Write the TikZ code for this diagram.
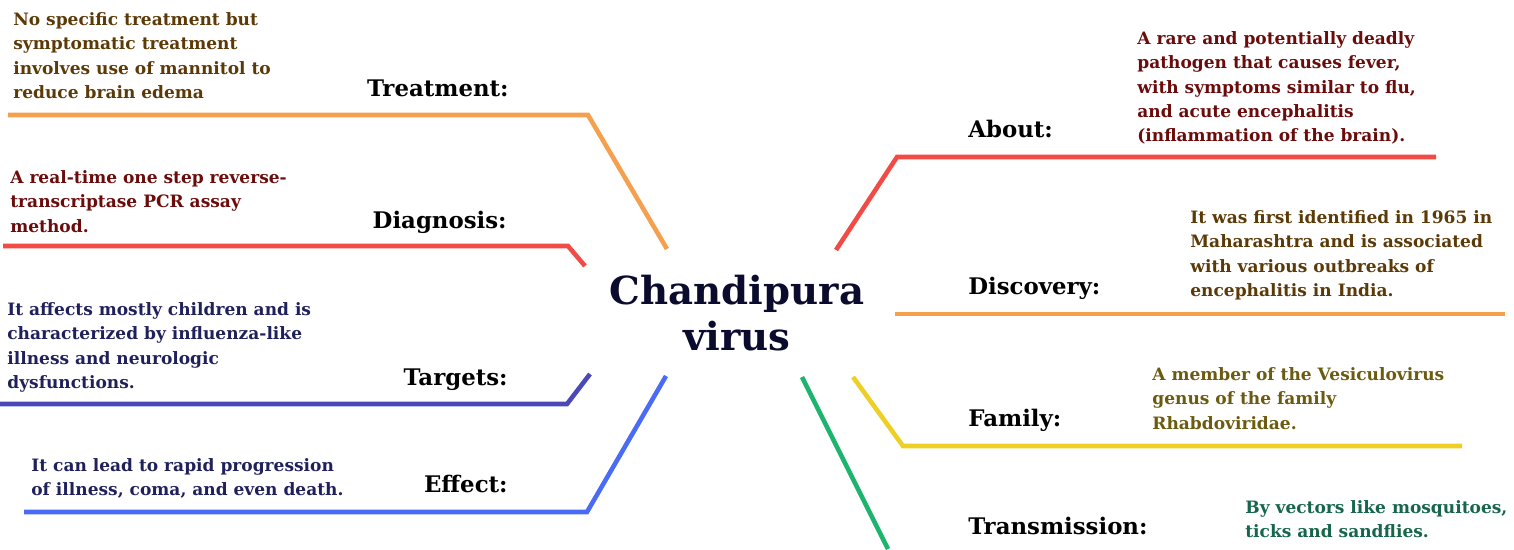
\documentclass[tikz,border=0pt]{standalone}
\usepackage{fontspec}
\setmainfont{DejaVu Serif}
\definecolor{lineorange}{HTML}{F5A04E}
\definecolor{linered}{HTML}{F24A45}
\definecolor{linepurple}{HTML}{4B48B8}
\definecolor{lineblue}{HTML}{4A6BF5}
\definecolor{lineyellow}{HTML}{EDCF26}
\definecolor{linegreen}{HTML}{1DB56E}
\definecolor{txtbrown}{HTML}{5C3A08}
\definecolor{txtmaroon}{HTML}{6B0C0C}
\definecolor{txtnavy}{HTML}{20215C}
\definecolor{txtolive}{HTML}{6B5B10}
\definecolor{txtgreen}{HTML}{17664A}
\definecolor{titlenavy}{HTML}{0B0B2E}
\tikzset{>=stealth,
  branch/.style={line width=2.6pt},
  head/.style={font=\bfseries\fontsize{13}{15}\selectfont, inner sep=0pt},
  info/.style={font=\bfseries\fontsize{9.7}{13.9}\selectfont, align=left, inner sep=0pt, anchor=north west}}

\begin{document}
\begin{tikzpicture}[x=0.02cm,y=-0.02cm]
    \useasboundingbox (0,0) rectangle (1514,549);
    \node[font=\bfseries\fontsize{22}{26.6}\selectfont, text=titlenavy, align=center, inner sep=0pt] (virus) at (737,313) {Chandipura\\virus};
    % branch ends
    \coordinate (treat-in) at (667,249);  \coordinate (treat-bend) at (588,115);  \coordinate (treat-out) at (8,115);
    \coordinate (diag-in) at (585,266);   \coordinate (diag-bend) at (568,246);   \coordinate (diag-out) at (3,246);
    \coordinate (targ-in) at (590,374);   \coordinate (targ-bend) at (567,404);   \coordinate (targ-out) at (0,404);
    \coordinate (eff-in) at (666,376);    \coordinate (eff-bend) at (587,512);    \coordinate (eff-out) at (24,512);
    \coordinate (about-in) at (836,250);  \coordinate (about-bend) at (897,157);  \coordinate (about-out) at (1436,157);
    \coordinate (disc-in) at (895,314);   \coordinate (disc-out) at (1505,314);
    \coordinate (fam-in) at (853,377);    \coordinate (fam-bend) at (903,446);    \coordinate (fam-out) at (1462,446);
    \coordinate (trans-in) at (802,377);  \coordinate (trans-out) at (888,549);
    \draw[branch,lineorange] (treat-in) -- (treat-bend) -- (treat-out);
    \draw[branch,linered] (diag-in) -- (diag-bend) -- (diag-out);
    \draw[branch,linepurple] (targ-in) -- (targ-bend) -- (targ-out);
    \draw[branch,lineblue] (eff-in) -- (eff-bend) -- (eff-out);
    \draw[branch,linered] (about-in) -- (about-bend) -- (about-out);
    \draw[branch,lineorange] (disc-in) -- (disc-out);
    \draw[branch,lineyellow] (fam-in) -- (fam-bend) -- (fam-out);
    \draw[branch,linegreen] (trans-in) -- (trans-out);
    % headings
    \node[head,anchor=base east] (treat) at (509,96) {Treatment:};
    \node[head,anchor=base east] (diag) at (507,228) {Diagnosis:};
    \node[head,anchor=base east] (targ) at (508,385) {Targets:};
    \node[head,anchor=base east] (eff) at (508,492) {Effect:};
    \node[head,anchor=base west] (about) at (968,137) {About:};
    \node[head,anchor=base west] (disc) at (968,294) {Discovery:};
    \node[head,anchor=base west] (fam) at (968,426) {Family:};
    \node[head,anchor=base west] (trans) at (968,534) {Transmission:};
    % texts
    \node[info,text=txtbrown] (treat-txt) at (13,12) {No specific treatment but\\symptomatic treatment\\involves use of mannitol to\\reduce brain edema};
    \node[info,text=txtmaroon] (diag-txt) at (10,170) {A real-time one step reverse-\\transcriptase PCR assay\\method.};
    \node[info,text=txtnavy] (targ-txt) at (7,302) {It affects mostly children and is\\characterized by influenza-like\\illness and neurologic\\dysfunctions.};
    \node[info,text=txtnavy] (eff-txt) at (31,458) {It can lead to rapid progression\\of illness, coma, and even death.};
    \node[info,text=txtmaroon] (about-txt) at (1137,31) {A rare and potentially deadly\\pathogen that causes fever,\\with symptoms similar to flu,\\and acute encephalitis\\(inflammation of the brain).};
    \node[info,text=txtbrown] (disc-txt) at (1190,210) {It was first identified in 1965 in\\Maharashtra and is associated\\with various outbreaks of\\encephalitis in India.};
    \node[info,text=txtolive] (fam-txt) at (1152,367) {A member of the Vesiculovirus\\genus of the family\\Rhabdoviridae.};
    \node[info,text=txtgreen] (trans-txt) at (1245,500) {By vectors like mosquitoes,\\ticks and sandflies.};
\end{tikzpicture}
\end{document}
